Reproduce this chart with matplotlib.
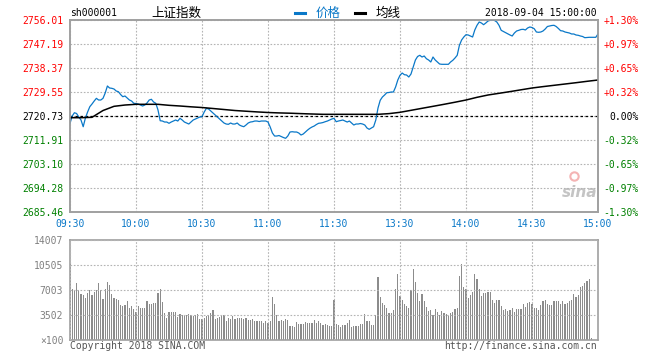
import numpy as np
import matplotlib
matplotlib.use("Agg")
import matplotlib.pyplot as plt
from matplotlib.lines import Line2D

plt.rcParams['font.family'] = ['DejaVu Sans Mono', 'Noto Sans CJK SC']

# --- data ---
prev_close = 2720.73
price_levels = [2685.46, 2694.28, 2703.10, 2711.91, 2720.73, 2729.55, 2738.37, 2747.19, 2756.01]
pct_labels = ['-1.30%', '-0.97%', '-0.65%', '-0.32%', '0.00%', '+0.32%', '+0.65%', '+0.97%', '+1.30%']
vol_levels = [0, 3502, 7003, 10505, 14007]
vol_labels = ['\u00d7100', '3502', '7003', '10505', '14007']
time_ticks = [0, 30, 60, 90, 120, 150, 180, 210, 240]
time_labels = ['09:30', '10:00', '10:30', '11:00', '11:30', '13:30', '14:00', '14:30', '15:00']

# one value per minute (09:30 .. 11:30, 13:01 .. 15:00)
price = [
    2718.05, 2720.73, 2721.94, 2721.65, 2720.36, 2719.26, 2716.80, 2719.99, 2722.20, 2724.15,
    2725.14, 2726.24, 2727.23, 2726.61, 2726.61, 2727.23, 2729.18, 2731.76, 2731.02, 2730.91,
    2730.65, 2729.92, 2729.66, 2728.63, 2727.82, 2728.08, 2727.35, 2726.61, 2726.24, 2725.40,
    2725.32, 2725.14, 2724.77, 2724.41, 2724.77, 2725.51, 2726.61, 2726.87, 2725.88, 2725.40,
    2722.94, 2719.00, 2718.89, 2718.52, 2718.52, 2718.05, 2718.52, 2718.89, 2719.26, 2718.89,
    2719.88, 2719.26, 2718.52, 2718.16, 2717.79, 2718.52, 2719.26, 2719.63, 2719.99, 2720.36,
    2720.47, 2722.20, 2723.56, 2723.30, 2722.57, 2721.83, 2721.10, 2720.36, 2719.63, 2718.89,
    2718.16, 2717.79, 2717.68, 2718.16, 2717.79, 2717.79, 2718.16, 2717.42, 2717.05, 2716.80,
    2717.42, 2718.16, 2718.52, 2718.64, 2718.89, 2718.89, 2718.71, 2718.89, 2718.89, 2718.89,
    2718.52, 2716.69, 2714.48, 2713.38, 2713.38, 2713.56, 2713.20, 2712.83, 2712.53, 2713.38,
    2714.85, 2714.96, 2714.85, 2714.85, 2714.48, 2713.75, 2714.11, 2714.85, 2715.58, 2716.21,
    2716.69, 2717.05, 2717.61, 2718.05, 2718.16, 2718.34, 2718.64, 2718.89, 2719.26, 2719.63,
    2719.88, 2718.64, 2718.89, 2719.08, 2719.26, 2718.89, 2718.52, 2718.89, 2718.16, 2717.42,
    2717.79, 2717.79, 2717.97, 2717.79, 2717.42, 2716.32, 2715.84, 2716.32, 2716.80, 2719.26,
    2723.67, 2726.50, 2727.71, 2728.45, 2729.29, 2729.37, 2729.55, 2729.55, 2731.39, 2733.96,
    2735.69, 2736.53, 2735.91, 2735.80, 2735.06, 2736.17, 2738.74, 2741.31, 2742.60, 2743.04,
    2742.41, 2742.78, 2741.79, 2741.31, 2740.58, 2742.41, 2741.31, 2740.58, 2739.84, 2739.73,
    2739.73, 2739.73, 2739.73, 2740.58, 2741.20, 2742.05, 2743.04, 2746.71, 2748.66, 2749.76,
    2750.61, 2750.50, 2750.13, 2749.76, 2752.34, 2754.06, 2755.28, 2754.91, 2754.28, 2754.91,
    2755.64, 2755.90, 2756.01, 2755.83, 2755.28, 2754.06, 2752.22, 2751.78, 2751.34, 2750.87,
    2750.50, 2750.13, 2751.23, 2751.97, 2752.22, 2752.52, 2752.59, 2752.34, 2753.07, 2753.44,
    2753.25, 2752.81, 2751.60, 2751.49, 2751.60, 2751.97, 2752.70, 2753.62, 2753.81, 2753.99,
    2754.06, 2753.62, 2752.89, 2752.08, 2751.97, 2751.60, 2751.42, 2751.23, 2750.87, 2750.87,
    2750.50, 2750.39, 2750.13, 2749.95, 2749.51, 2749.58, 2749.65, 2749.65, 2749.65, 2749.65,
    2750.87,
]

# average price line, every 5 minutes
avg_minutes = list(range(0, 241, 5))
avg_price = [
    2720.11, 2720.11, 2720.25, 2722.75, 2724.29, 2724.77, 2725.03, 2725.03, 2725.03, 2724.66,
    2724.41, 2724.11, 2723.85, 2723.49, 2723.12, 2722.75, 2722.49, 2722.24, 2722.02, 2721.87,
    2721.76, 2721.61, 2721.47, 2721.35, 2721.35, 2721.35, 2721.35, 2721.35, 2721.35, 2721.61,
    2722.09, 2722.82, 2723.56, 2724.29, 2725.03, 2725.80, 2726.61, 2727.60, 2728.45, 2729.07,
    2729.70, 2730.36, 2731.02, 2731.53, 2732.01, 2732.49, 2732.97, 2733.48, 2733.96,
]

# volume per minute (x100)
volume = [
    10800, 7190, 7000, 8030, 7000, 6490, 6260, 5880, 6540, 7000,
    6300, 6720, 7000, 8030, 7000, 5790, 7190, 8170, 7700, 6490,
    5930, 5790, 5600, 4950, 4760, 4950, 5460, 4530, 4760, 4300,
    3900, 4720, 4530, 4480, 4480, 5420, 5090, 5090, 5230, 5230,
    6540, 7190, 5320, 3780, 3130, 3970, 3970, 3920, 3920, 3270,
    3600, 3500, 3500, 3500, 3600, 3450, 3410, 3550, 3600, 2990,
    2990, 3080, 3360, 3500, 3830, 4200, 2990, 3130, 3220, 3500,
    3500, 2660, 3080, 2990, 3360, 2990, 3030, 3130, 3130, 2990,
    3130, 2800, 2800, 2990, 2710, 2660, 2660, 2660, 2430, 2660,
    2330, 2660, 6020, 5090, 3500, 2660, 2800, 2660, 2900, 2750,
    1960, 1960, 1820, 2520, 2190, 2190, 2190, 2520, 2330, 2330,
    2330, 2800, 2330, 2610, 2430, 2150, 2240, 2050, 1960, 1960,
    5600, 2290, 2050, 1870, 2050, 2050, 2330, 2800, 1870, 1960,
    1960, 1960, 2290, 2290, 3600, 2660, 2660, 2100, 2100, 3450,
    8870, 6020, 5180, 4900, 4480, 3780, 3780, 4200, 7190, 9290,
    6160, 5600, 5040, 4720, 4480, 6960, 9990, 8120, 6580, 5460,
    6440, 5420, 4620, 4020, 4160, 3450, 4300, 3920, 3550, 4020,
    3780, 3600, 3360, 3780, 3920, 4390, 4480, 8960, 10600, 7420,
    7100, 5930, 6350, 6720, 9240, 8500, 7190, 6160, 6540, 6540,
    6680, 6720, 5600, 5230, 5600, 5600, 4760, 4200, 4300, 4110,
    4200, 4480, 3920, 4300, 4390, 4390, 5000, 4670, 5140, 5280,
    5000, 4480, 4480, 4200, 4860, 5510, 5600, 5040, 4950, 4950,
    5420, 5420, 5420, 5040, 5420, 5040, 5230, 5420, 5600, 6400,
    6070, 6260, 7420, 7560, 8030, 8260, 8590, 330, 0, 0,
    0,
]

BLUE = '#0a78c8'
RED = '#ff0000'
GREEN = '#008000'
FRAME = '#a0a0a0'
GRID = '#b4b4b4'
FS = 7

W, H = 660, 360
fig = plt.figure(figsize=(W / 100, H / 100), dpi=100)
fig.patch.set_facecolor('white')

ax = fig.add_axes([70 / W, 1 - 212 / H, 528 / W, 192 / H])
axv = fig.add_axes([70 / W, 1 - 340 / H, 528 / W, 100 / H])

minutes = np.arange(len(price))

# price panel
ax.plot(minutes, price, color=BLUE, lw=0.9, zorder=3)
ax.plot(avg_minutes, avg_price, color='black', lw=1.1, zorder=3)
ax.axhline(prev_close, color='black', lw=0.9, ls=(0, (2, 2)), zorder=2)

ax.set_xlim(0, 240)
ax.set_ylim(price_levels[0], price_levels[-1])
ax.set_xticks(time_ticks)
ax.set_xticklabels(time_labels)
ax.set_yticks(price_levels)
ax.set_yticklabels(['%.2f' % v for v in price_levels])
ax.grid(True, color=GRID, lw=0.8, ls=(0, (1.5, 1.5)))
ax.tick_params(axis='both', length=0, labelsize=FS)
ax.tick_params(axis='y', pad=4.8)
ax.tick_params(axis='x', pad=5, labelcolor=BLUE)

def level_color(v):
    if abs(v - prev_close) < 0.005:
        return 'black'
    return RED if v > prev_close else GREEN

for lbl, v in zip(ax.get_yticklabels(), price_levels):
    lbl.set_color(level_color(v))

ax2 = ax.twinx()
ax2.set_ylim(price_levels[0], price_levels[-1])
ax2.set_yticks(price_levels)
ax2.set_yticklabels(pct_labels)
ax2.tick_params(axis='y', length=0, labelsize=FS, pad=29.5)
for lbl, v in zip(ax2.get_yticklabels(), price_levels):
    lbl.set_color(level_color(v))
    lbl.set_ha('right')

for a in (ax, ax2, axv):
    for s in a.spines.values():
        s.set_color(FRAME)
        s.set_linewidth(1.2)

# volume panel
axv.bar(minutes, volume, width=0.5, color='#8c8c8c', linewidth=0, zorder=2)
axv.set_xlim(0, 240)
axv.set_ylim(vol_levels[0], vol_levels[-1])
axv.set_xticks(time_ticks)
axv.set_xticklabels([])
axv.set_yticks(vol_levels)
axv.set_yticklabels(vol_labels)
axv.grid(True, color=GRID, lw=0.8, ls=(0, (1.5, 1.5)), zorder=3)
axv.set_axisbelow(False)
axv.tick_params(axis='both', length=0, labelsize=FS, labelcolor='#808080')
axv.tick_params(axis='y', pad=4.8)

# header
fig.text(70 / W, 1 - 13 / H, 'sh000001', fontsize=FS, va='center', ha='left')
fig.text(151 / W, 1 - 13 / H, '上证指数', fontsize=9, va='center', ha='left',
         family=['Noto Sans CJK SC', 'DejaVu Sans'])
fig.add_artist(Line2D([295 / W, 305 / W], [1 - 12.5 / H] * 2, color=BLUE, lw=2.2))
fig.text(316 / W, 1 - 13 / H, '价格', fontsize=9, va='center', ha='left', color=BLUE,
         family=['Noto Sans CJK SC', 'DejaVu Sans'])
fig.add_artist(Line2D([355 / W, 365 / W], [1 - 12.5 / H] * 2, color='black', lw=2.2))
fig.text(376 / W, 1 - 13 / H, '均线', fontsize=9, va='center', ha='left',
         family=['Noto Sans CJK SC', 'DejaVu Sans'])
fig.text(597 / W, 1 - 13 / H, '2018-09-04 15:00:00', fontsize=FS, va='center', ha='right')

# footer
fig.text(70 / W, 1 - 346 / H, 'Copyright 2018 SINA.COM', fontsize=FS, va='center',
         ha='left', color='#555555')
fig.text(597 / W, 1 - 346 / H, 'http://finance.sina.com.cn', fontsize=FS, va='center',
         ha='right', color='#555555')

# faint sina watermark
ax.text(0.965, 0.06, 'sina', transform=ax.transAxes, fontsize=11, color='#c4c4c4',
        style='italic', weight='bold', ha='center', va='bottom', family='DejaVu Sans', zorder=1)
ax.plot([0.955], [0.19], 'o', transform=ax.transAxes, ms=6, mfc='none', mec='#f4b4b4',
        mew=1.5, zorder=1)

fig.savefig('out.png', dpi=100)
